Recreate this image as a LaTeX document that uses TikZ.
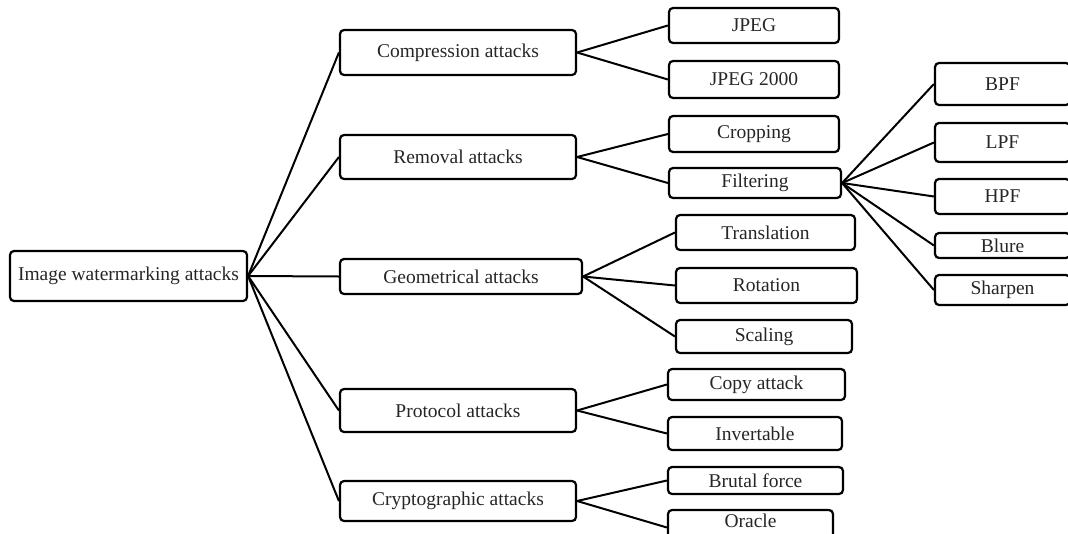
\documentclass[tikz,border=0pt]{standalone}
\usepackage{fontspec}
\setmainfont{Liberation Serif}
\begin{document}
\begin{tikzpicture}[x=1pt,y=-1pt,
  box/.style={draw=black,line width=2.2pt,rounded corners=4pt,inner sep=0pt,
    font=\fontsize{19.5}{22}\selectfont,text=black!85},
  link/.style={draw=black,line width=2pt}]
\useasboundingbox (0,0) rectangle (1068,533);
% level 0
\node[box,minimum width=237pt,minimum height=50pt] (root) at (128.5,276) {Image watermarking attacks};
% level 1
\node[box,minimum width=236pt,minimum height=45pt] (comp) at (458,52.5) {Compression attacks};
\node[box,minimum width=236pt,minimum height=44pt] (rem) at (458,157) {Removal attacks};
\node[box,minimum width=242pt,minimum height=35pt] (geo) at (461,276.5) {Geometrical attacks};
\node[box,minimum width=236pt,minimum height=43pt] (prot) at (458,410.5) {Protocol attacks};
\node[box,minimum width=236pt,minimum height=40pt] (cryp) at (458,501) {Cryptographic attacks};
% level 2
\node[box,minimum width=170pt,minimum height=35pt] (jpeg) at (754,25.5) {JPEG};
\node[box,minimum width=170pt,minimum height=37pt] (jpegk) at (754,79.5) {JPEG 2000};
\node[box,minimum width=170pt,minimum height=36pt] (crop) at (754,134) {Cropping};
\node[box,minimum width=172pt,minimum height=30pt] (filt) at (755,183) {Filtering};
\node[box,minimum width=179pt,minimum height=35pt] (trans) at (765.5,232.5) {Translation};
\node[box,minimum width=181pt,minimum height=35pt] (rot) at (766.5,285.5) {Rotation};
\node[box,minimum width=176pt,minimum height=33pt] (scal) at (764,336.5) {Scaling};
\node[box,minimum width=177pt,minimum height=31pt] (copy) at (756.5,384.5) {Copy attack};
\node[box,minimum width=174pt,minimum height=33pt] (inv) at (755,433.5) {Invertable};
\node[box,minimum width=175pt,minimum height=27pt] (brut) at (755.5,480.5) {Brutal force};
\node[box,minimum width=165pt,minimum height=35pt] (orac) at (750.5,527.5) {\raisebox{13pt}{Oracle}};
% level 3
\node[box,minimum width=135pt,minimum height=42pt] (bpf) at (1002.5,84) {BPF};
\node[box,minimum width=135pt,minimum height=39pt] (lpf) at (1002.5,142.5) {LPF};
\node[box,minimum width=135pt,minimum height=35pt] (hpf) at (1002.5,196.5) {HPF};
\node[box,minimum width=135pt,minimum height=25pt] (blure) at (1002.5,245.5) {Blure};
\node[box,minimum width=135pt,minimum height=30pt] (sharp) at (1002.5,290) {Sharpen};
% connectors
\foreach \c in {comp,rem,geo,prot,cryp} \draw[link] (root.east) -- (\c.west);
\draw[link] (comp.east) -- (jpeg.west);
\draw[link] (comp.east) -- (jpegk.west);
\draw[link] (rem.east) -- (crop.west);
\draw[link] (rem.east) -- (filt.west);
\draw[link] (geo.east) -- (trans.west);
\draw[link] (geo.east) -- (rot.west);
\draw[link] (geo.east) -- (scal.west);
\draw[link] (prot.east) -- (copy.west);
\draw[link] (prot.east) -- (inv.west);
\draw[link] (cryp.east) -- (brut.west);
\draw[link] (cryp.east) -- (orac.west);
\foreach \c in {bpf,lpf,hpf,blure,sharp} \draw[link] (filt.east) -- (\c.west);
\end{tikzpicture}
\end{document}
